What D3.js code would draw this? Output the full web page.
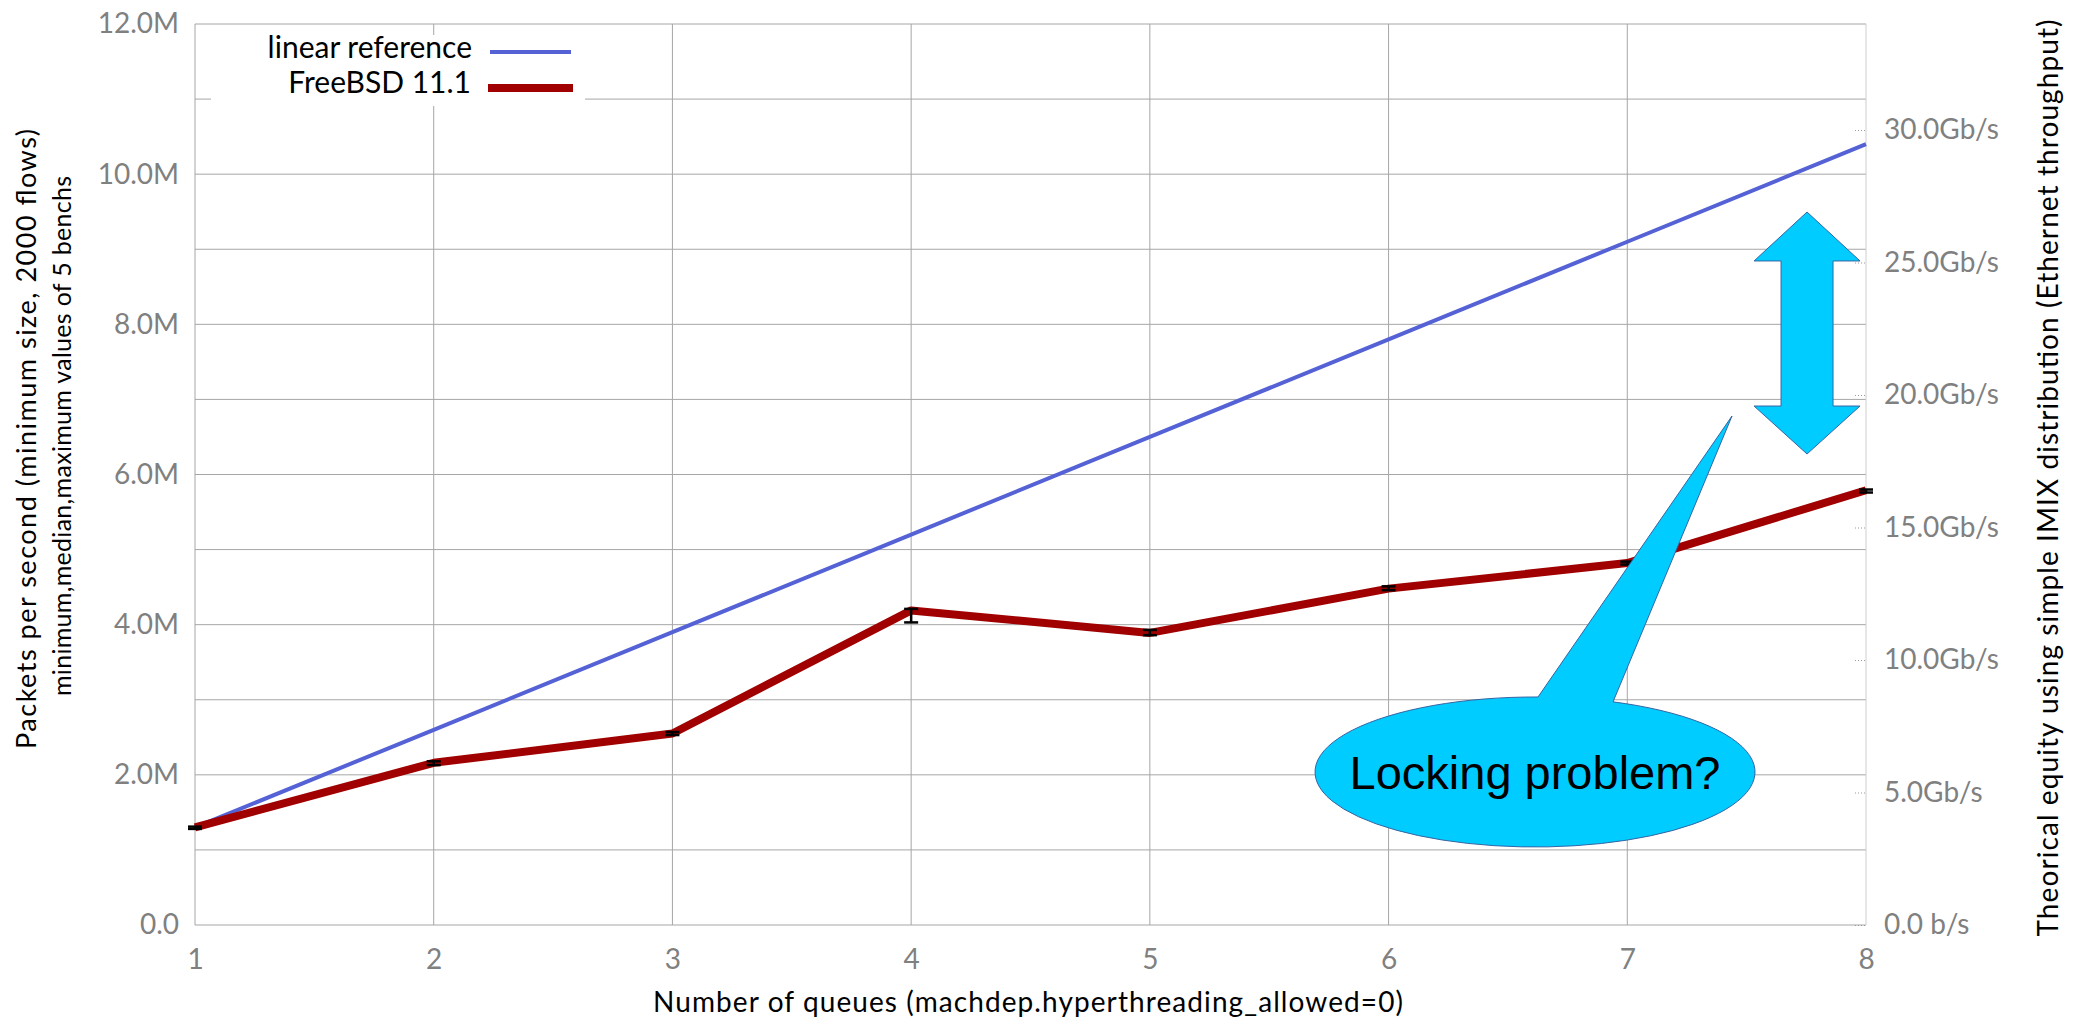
<!DOCTYPE html>
<meta charset="utf-8">
<script src="https://d3js.org/d3.v7.min.js"></script>
<style>

body {
  margin: 0;
  background: #fff;
}

text {
  font-family: Lato, "Open Sans", sans-serif;
}

.grid line {
  stroke: #a6a6a6;
  stroke-width: 1;
}

.axis text {
  fill: #808080;
}
</style>
<body>
<script type="text/javascript">

// values (packets per second)
var queues = [1, 2, 3, 4, 5, 6, 7, 8];
var linearRef = [1.3e6, 2.6e6, 3.9e6, 5.2e6, 6.5e6, 7.8e6, 9.1e6, 10.4e6];
var freebsdMedian = [1.30e6, 2.16e6, 2.55e6, 4.19e6, 3.89e6, 4.48e6, 4.82e6, 5.79e6];
var freebsdMin = [1.28e6, 2.13e6, 2.53e6, 4.03e6, 3.86e6, 4.46e6, 4.80e6, 5.76e6];
var freebsdMax = [1.31e6, 2.18e6, 2.57e6, 4.21e6, 3.93e6, 4.51e6, 4.84e6, 5.80e6];
var seriesNames = ["linear reference", "FreeBSD 11.1"];

// axis ticks
var ppsTicks = [0, 2e6, 4e6, 6e6, 8e6, 10e6, 12e6];
var gbpsTicks = [0, 5, 10, 15, 20, 25, 30];

// set the dimensions and margins of the graph
var margin = {top: 24, right: 214, bottom: 102, left: 195},
    width = 2080 - margin.left - margin.right,
    height = 1027 - margin.top - margin.bottom;

var x = d3.scaleLinear().domain([1, 8]).range([0, width]);
var y = d3.scaleLinear().domain([0, 12e6]).range([height, 0]);
// right axis: same pixels, IMIX throughput
var yR = d3.scaleLinear().domain([0, 34]).range([height, 0]);

var svg = d3.select("body")
            .append("svg")
            .attr("width", width + margin.left + margin.right)
            .attr("height", height + margin.top + margin.bottom)
            .append("g")
            .attr("transform", "translate(" + margin.left + "," + margin.top + ")");

// grid
var grid = svg.append("g").attr("class", "grid");
grid.selectAll(".hline")
    .data(y.ticks(12))
    .enter().append("line")
    .attr("x1", 0).attr("x2", width)
    .attr("y1", function(d){ return y(d); })
    .attr("y2", function(d){ return y(d); });
grid.selectAll(".vline")
    .data(queues)
    .enter().append("line")
    .attr("x1", function(d){ return x(d); })
    .attr("x2", function(d){ return x(d); })
    .attr("y1", 0).attr("y2", height)
    .style("stroke", function(d){ return d == 8 ? "#cfcfcf" : null; });

// left axis
var yAxis = svg.append("g")
    .attr("class", "axis")
    .call(d3.axisLeft(y).tickValues(ppsTicks).tickSize(0).tickPadding(16)
        .tickFormat(function(d){ return d == 0 ? "0.0" : (d / 1e6).toFixed(1) + "M"; }));
yAxis.select(".domain").remove();
yAxis.selectAll("text").attr("font-size", 28).attr("font-family", "Lato");

// right axis
var rAxis = svg.append("g")
    .attr("class", "axis")
    .attr("transform", "translate(" + width + ",0)")
    .call(d3.axisRight(yR).tickValues(gbpsTicks).tickSize(0).tickPadding(18)
        .tickFormat(function(d){ return d == 0 ? "0.0 b/s" : d.toFixed(1) + "Gb/s"; }));
rAxis.select(".domain").remove();
rAxis.selectAll("text").attr("font-size", 28).attr("font-family", "Lato");
rAxis.selectAll(".tick").append("line")
    .attr("x1", -11).attr("x2", 0)
    .style("stroke", "#999")
    .style("stroke-dasharray", "1,2");

// bottom axis
var xAxis = svg.append("g")
    .attr("class", "axis")
    .attr("transform", "translate(0," + height + ")")
    .call(d3.axisBottom(x).tickValues(queues).tickSize(0).tickPadding(24)
        .tickFormat(d3.format("d")));
xAxis.select(".domain").remove();
xAxis.selectAll("text").attr("font-size", 28).attr("font-family", "Lato");

// legend box hides the grid
var legend = svg.append("g").attr("transform", "translate(" + (-margin.left) + "," + (-margin.top) + ")");
legend.append("rect")
    .attr("x", 211).attr("y", 35)
    .attr("width", 374).attr("height", 71)
    .style("fill", "#fff");
legend.append("text")
    .attr("x", 472).attr("y", 58)
    .attr("text-anchor", "end")
    .attr("font-size", 30)
    .text(seriesNames[0]);
legend.append("text")
    .attr("x", 471).attr("y", 93)
    .attr("text-anchor", "end")
    .attr("font-size", 30)
    .text(seriesNames[1]);
legend.append("line")
    .attr("x1", 490).attr("x2", 571).attr("y1", 52).attr("y2", 52)
    .style("stroke", "#5462d6").style("stroke-width", 4);
legend.append("line")
    .attr("x1", 488).attr("x2", 573).attr("y1", 88).attr("y2", 88)
    .style("stroke", "#a00000").style("stroke-width", 8);

// lines
var line = d3.line()
    .x(function(d){ return x(d[0]); })
    .y(function(d){ return y(d[1]); });

svg.append("path")
    .datum(d3.zip(queues, linearRef))
    .attr("d", line)
    .style("fill", "none")
    .style("stroke", "#5462d6")
    .style("stroke-width", 4);

svg.append("path")
    .datum(d3.zip(queues, freebsdMedian))
    .attr("d", line)
    .style("fill", "none")
    .style("stroke", "#a00000")
    .style("stroke-width", 8)
    .style("stroke-linejoin", "round");

// error bars (min / max of 5 benchs)
var bars = svg.selectAll(".ebar")
    .data(d3.zip(queues, freebsdMin, freebsdMax))
    .enter().append("g")
    .attr("class", "ebar")
    .style("stroke", "#000")
    .style("stroke-width", 2.5);
bars.append("line")
    .attr("x1", function(d){ return x(d[0]); })
    .attr("x2", function(d){ return x(d[0]); })
    .attr("y1", function(d){ return y(d[1]); })
    .attr("y2", function(d){ return y(d[2]); });
bars.append("line")
    .attr("x1", function(d){ return x(d[0]) - 7; })
    .attr("x2", function(d){ return x(d[0]) + 7; })
    .attr("y1", function(d){ return y(d[1]); })
    .attr("y2", function(d){ return y(d[1]); });
bars.append("line")
    .attr("x1", function(d){ return x(d[0]) - 7; })
    .attr("x2", function(d){ return x(d[0]) + 7; })
    .attr("y1", function(d){ return y(d[2]); })
    .attr("y2", function(d){ return y(d[2]); });

// double arrow (gap between linear reference and measured)
var ax = x(7.753), aTop = y(9.496e6), aHead1 = y(8.844e6), aHead2 = y(6.912e6), aBot = y(6.273e6);
svg.append("path")
    .attr("d", "M" + ax + "," + aTop +
        "L" + (ax + 53) + "," + aHead1 + "L" + (ax + 26) + "," + aHead1 +
        "L" + (ax + 26) + "," + aHead2 + "L" + (ax + 53) + "," + aHead2 +
        "L" + ax + "," + aBot +
        "L" + (ax - 53) + "," + aHead2 + "L" + (ax - 26) + "," + aHead2 +
        "L" + (ax - 26) + "," + aHead1 + "L" + (ax - 53) + "," + aHead1 + "Z")
    .style("fill", "#00ccff")
    .style("stroke", "#3465a4")
    .style("stroke-width", 1);

// callout bubble
var cx = x(6.6135), cy = y(2.038e6), rx = 220, ry = 75;
var tipX = x(7.4387), tipY = y(6.779e6);
function onTop(dx){ return cy - ry * Math.sqrt(1 - (dx / rx) * (dx / rx)); }
var bL = cx + 3, bR = cx + 78;
svg.append("path")
    .attr("d", "M" + bR + "," + onTop(78) +
        "A" + rx + "," + ry + " 0 1 1 " + bL + "," + onTop(3) +
        "L" + tipX + "," + tipY + "Z")
    .style("fill", "#00ccff")
    .style("stroke", "#3465a4")
    .style("stroke-width", 1);
svg.append("text")
    .attr("x", cx).attr("y", cy + 17)
    .attr("text-anchor", "middle")
    .attr("font-size", 47)
    .style("font-family", "'Liberation Sans', Arial, sans-serif")
    .text("Locking problem?");

// axis titles
var titles = svg.append("g").attr("transform", "translate(" + (-margin.left) + "," + (-margin.top) + ")");
titles.append("text")
    .attr("x", 1028).attr("y", 1012)
    .attr("text-anchor", "middle")
    .attr("font-size", 28)
    .attr("textLength", 750)
    .text("Number of queues (machdep.hyperthreading_allowed=0)");
titles.append("text")
    .attr("transform", "translate(36,439) rotate(-90)")
    .attr("text-anchor", "middle")
    .attr("font-size", 27)
    .attr("textLength", 620)
    .text("Packets per second (minimum size, 2000 flows)");
titles.append("text")
    .attr("transform", "translate(71,436) rotate(-90)")
    .attr("text-anchor", "middle")
    .attr("font-size", 25)
    .attr("textLength", 520)
    .text("minimum,median,maximum values of 5 benchs");
titles.append("text")
    .attr("transform", "translate(2058,478) rotate(-90)")
    .attr("text-anchor", "middle")
    .attr("font-size", 28)
    .attr("textLength", 917)
    .text("Theorical equity using simple IMIX distribution (Ethernet throughput)");

</script>
</body>
</html>
